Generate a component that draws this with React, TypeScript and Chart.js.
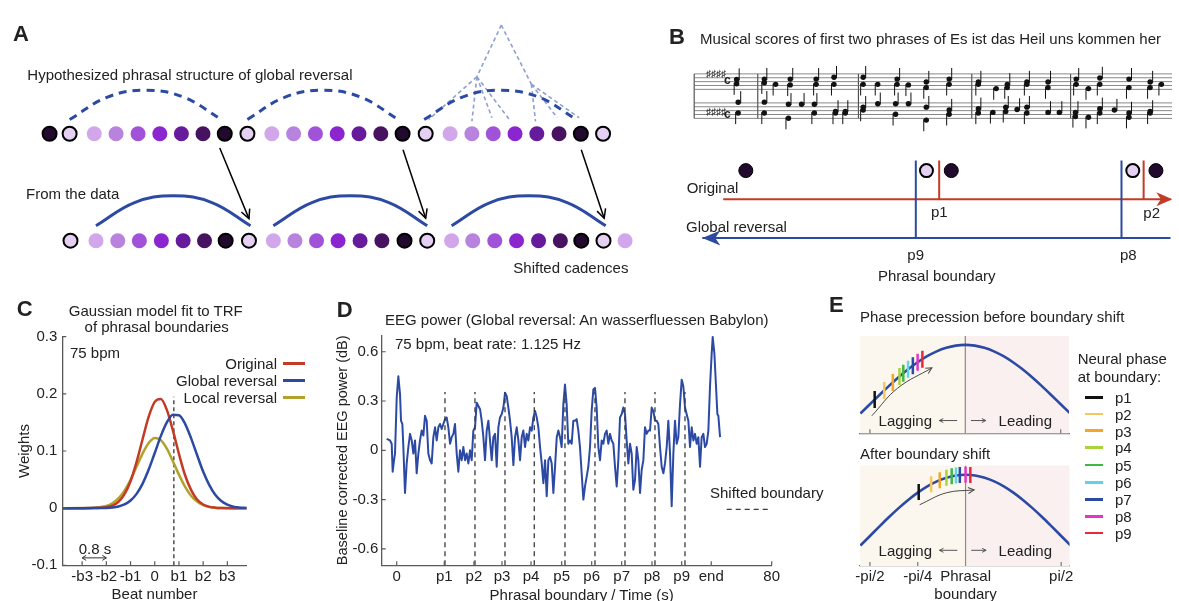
import React, { useEffect, useRef } from 'react';
import { Chart, registerables } from 'chart.js';

Chart.register(...registerables);

const FONT = '"Liberation Sans", Arial, Helvetica, sans-serif';
Chart.defaults.font.family = FONT;
Chart.defaults.font.size = 15;
Chart.defaults.color = '#222';

const INK = '#222222';
const AXIS = '#5a5a5a';
const BLUE = '#2c4aa3';
const RED = '#c33b25';
const OLIVE = '#b3a12c';

// ---------------- Panel A : beats & phrase arcs ----------------
const topRowBeats = [0, 0.92, 2.05, 3.05, 4.06, 5.06, 6.05, 7.04, 8.04, 9.08, 10.2, 11.2, 12.2, 13.2, 14.2, 15.2, 16.2, 17.26, 18.38, 19.38, 20.36, 21.36, 22.36, 23.38, 24.38, 25.4];
const topRowShades = [7, 0, 1, 2, 3, 4, 5, 6, 7, 0, 1, 2, 3, 4, 5, 6, 7, 0, 1, 2, 3, 4, 5, 6, 7, 0];
const bottomRowBeats = [0.96, 2.13, 3.13, 4.12, 5.13, 6.13, 7.11, 8.08, 9.15, 10.27, 11.26, 12.25, 13.24, 14.25, 15.25, 16.29, 17.33, 18.45, 19.42, 20.43, 21.43, 22.44, 23.44, 24.4, 25.42, 26.41];
const bottomRowShades = [0, 1, 2, 3, 4, 5, 6, 7, 0, 1, 2, 3, 4, 5, 6, 7, 0, 1, 2, 3, 4, 5, 6, 7, 0, 1];
const shadeColors = ['#e4d0f2', '#d2a6ea', '#b882df', '#a052d8', '#8a25cf', '#661a9c', '#471260', '#220a2e'];
const ROW_TOP = 3;
const ROW_BOTTOM = 0;

const hypArc1 = [[0.92, 3.4], [2.66, 4.03], [4.4, 4.22], [6.14, 4.03], [7.88, 3.4]];
const hypArc2 = [[9.08, 3.4], [10.81, 4.03], [12.54, 4.22], [14.27, 4.03], [16.0, 3.4]];
const hypArc3 = [[17.19, 3.4], [18.94, 4.03], [20.69, 4.22], [22.44, 4.03], [24.18, 3.4]];
const dataArc1 = [[2.13, 0.42], [3.9, 1.07], [5.68, 1.26], [7.45, 1.07], [9.22, 0.42]];
const dataArc2 = [[10.27, 0.42], [12.04, 1.07], [13.8, 1.26], [15.57, 1.07], [17.33, 0.42]];
const dataArc3 = [[18.45, 0.42], [20.22, 1.07], [21.99, 1.26], [23.75, 1.07], [25.52, 0.42]];
const treeSegments = [
  [[20.73, 6.05], [19.61, 4.6]], [[20.73, 6.05], [22.11, 4.39]],
  [[19.61, 4.6], [17.4, 3.4]], [[19.61, 4.6], [19.38, 3.35]], [[19.61, 4.6], [20.3, 3.45]], [[19.61, 4.6], [21.1, 3.4]],
  [[22.11, 4.39], [22.3, 3.35]], [[22.11, 4.39], [23.3, 3.45]], [[22.11, 4.39], [24.3, 3.45]],
];
const cadenceArrows = [
  [[7.81, 2.6], [9.15, 0.62]],
  [[16.22, 2.55], [17.26, 0.63]],
  [[24.4, 2.55], [25.45, 0.63]],
];

// ---------------- Panel B : score & timeline ----------------
const trebleLines = [15, 17, 19, 21, 23];
const bassLines = [0, 2, 4, 6, 8];
const barlineBeats = [0, 2.53, 6.53, 11.04, 14.97];
const scoreEnd = 19.3;
const trebleNotes = [
  [1.69, 20.1, 1], [1.69, 17.9, -1],
  [2.79, 20.3, 1], [2.79, 18.4, -1], [3.24, 17.6, -1], [3.82, 20.3, 1], [3.82, 17.3, -1], [4.85, 20.3, 1], [4.85, 17.6, -1], [5.56, 21.3, 1], [5.56, 17.6, -1],
  [6.72, 21.3, 1], [6.72, 17.6, -1], [7.3, 17.6, -1], [8.07, 20.3, 1], [8.07, 17.6, -1], [8.52, 17.3, -1], [9.23, 18.8, 1], [9.23, 15.9, -1], [10.14, 20.3, 1], [10.14, 17.6, -1],
  [11.3, 18.8, 1], [11.3, 17.6, -1], [12.01, 15.4, -1], [12.45, 17.6, 1], [12.45, 15.9, -1], [13.23, 18.8, 1], [13.23, 17.6, -1], [14.07, 18.8, 1], [14.07, 15.9, -1],
  [15.19, 20.3, 1], [15.19, 17.6, -1], [15.68, 15.4, -1], [16.13, 20.9, 1], [16.13, 17.6, -1], [17.29, 20.3, 1], [17.29, 15.9, -1], [18.13, 18.8, 1], [18.13, 15.9, -1], [18.58, 17.6, -1],
];
const bassNotes = [
  [1.75, 8.3, 1], [1.75, 2.8, -1],
  [2.79, 8.4, 1], [2.79, 2.8, -1], [3.75, 7.3, 1], [3.75, 0.1, -1], [4.27, 7.3, 1], [4.78, 7.3, 1], [4.78, 2.8, -1], [5.62, 3.6, 1], [5.62, 2.8, -1], [6.01, 3.6, 1], [6.01, 2.8, -1],
  [6.72, 5.8, 1], [6.72, 4.3, -1], [7.3, 7.6, 1], [8.01, 7.6, 1], [8.01, 2.1, -1], [8.52, 7.6, 1], [9.23, 5.8, 1], [9.23, -0.9, -1], [10.14, 4.3, 1], [10.14, 2.1, -1],
  [11.3, 5.0, 1], [11.3, 2.8, -1], [11.88, 3.1, -1], [12.39, 5.8, 1], [12.39, 3.6, -1], [12.84, 4.6, 1], [13.23, 5.8, 1], [13.23, 2.8, -1], [14.07, 3.1, 1], [14.52, 3.1, 1],
  [15.16, 3.1, 1], [15.16, 1.0, -1], [15.68, 0.6, -1], [16.13, 5.0, 1], [16.13, 2.8, -1], [16.71, 4.3, 1], [17.29, 2.8, 1], [17.29, 0.6, -1], [18.13, 3.6, 1], [18.13, 2.8, -1],
];
const originalCadenceDots = [0, 10.02, 20.0];
const reversedCadenceDots = [8.81, 18.87];
const globalBoundaries = [8.29, 18.32];
const originalBoundaries = [9.43, 19.4];

// ---------------- Panel C : Gaussian fits ----------------
const beatGrid = [-3.8, -3, -2.5, -2, -1.75, -1.5, -1.25, -1, -0.75, -0.5, -0.25, 0, 0.25, 0.5, 0.75, 1, 1.25, 1.5, 1.75, 2, 2.25, 2.5, 2.75, 3, 3.25, 3.5, 3.8];
const originalWeights = [0, 0, 0.0001, 0.0016, 0.0045, 0.0111, 0.0245, 0.047, 0.081, 0.121, 0.16, 0.186, 0.191, 0.172, 0.136, 0.095, 0.058, 0.032, 0.015, 0.0063, 0.0023, 0.0008, 0.0002, 0, 0, 0, 0];
const globalWeights = [0, 0, 0.0001, 0.0004, 0.0012, 0.0029, 0.0065, 0.0134, 0.025, 0.043, 0.0675, 0.0965, 0.126, 0.15, 0.1635, 0.1627, 0.148, 0.1226, 0.093, 0.064, 0.0406, 0.0234, 0.0124, 0.006, 0.0026, 0.001, 0.0003];
const localWeights = [0, 0.0001, 0.0006, 0.0039, 0.0086, 0.0171, 0.0307, 0.0497, 0.0727, 0.0959, 0.114, 0.1228, 0.119, 0.104, 0.082, 0.0586, 0.0377, 0.0218, 0.0114, 0.0054, 0.0023, 0.0009, 0.0003, 0.0001, 0, 0, 0];
const beatTicks = [-3, -2, -1, 0, 1, 2, 3];
const beatTickLabels = ['-b3', '-b2', '-b1', '0', 'b1', 'b2', 'b3'];
const weightTicks = [-0.1, 0, 0.1, 0.2, 0.3];
const shiftedBeat = 0.79;

// ---------------- Panel D : EEG power ----------------
const eegTime = [
  -2.14, -1.43, -1.07, -0.86, -0.57, -0.36, 0.0, 0.35, 0.71, 0.92,
  1.21, 1.42, 1.77, 2.13, 2.49, 2.84, 3.2, 3.55, 3.91, 4.26,
  4.62, 4.97, 5.33, 5.69, 6.04, 6.4, 6.75, 7.11, 7.46, 7.82,
  8.18, 8.53, 8.89, 9.24, 9.6, 9.95, 10.31, 10.66, 11.02, 11.38,
  11.73, 12.09, 12.44, 12.8, 13.15, 13.51, 13.87, 14.22, 14.58, 14.93,
  15.29, 15.64, 16.0, 16.35, 16.71, 17.07, 17.42, 17.78, 18.13, 18.49,
  18.84, 19.2, 19.56, 19.91, 20.27, 20.62, 20.98, 21.33, 21.69, 22.04,
  22.4, 22.76, 23.11, 23.47, 23.82, 24.18, 24.53, 24.89, 25.25, 25.6,
  25.96, 26.31, 26.67, 27.02, 27.38, 27.73, 28.09, 28.45, 28.8, 29.16,
  29.51, 29.87, 30.22, 30.58, 30.94, 31.29, 31.65, 32.0, 32.36, 32.71,
  33.07, 33.42, 33.78, 34.14, 34.49,
  34.84, 35.19, 35.55, 35.9, 36.26, 36.61, 36.97, 37.33, 37.68, 38.04,
  38.39, 38.75, 39.1, 39.46, 39.82, 40.17, 40.53, 40.88, 41.24, 41.59,
  41.95, 42.3, 42.66, 43.02, 43.37, 43.73, 44.08, 44.44, 44.79, 45.15,
  45.5, 45.86, 46.22, 46.57, 46.93, 47.28, 47.64, 47.99, 48.35, 48.71,
  49.06, 49.42, 49.77, 50.13, 50.48, 50.84, 51.2, 51.55, 51.91, 52.26,
  52.62, 52.97, 53.33, 53.68, 54.04, 54.4, 54.75, 55.11, 55.46, 55.82,
  56.17, 56.53, 56.89, 57.24, 57.6, 57.95, 58.31, 58.66, 59.02, 59.37,
  59.73, 60.08, 60.44, 60.8, 61.15, 61.51, 61.86, 62.22, 62.57, 62.93,
  63.29, 63.64, 64.0, 64.35, 64.71, 65.06, 65.42, 65.77, 66.13, 66.49,
  66.84, 67.2, 67.41, 67.77, 68.12, 68.41, 68.62, 68.98,
];
const eegPower = [
  0.07, 0.06, 0.04, -0.13, -0.06, -0.02, 0.32, 0.45, 0.34, 0.18,
  0.16, 0.02, -0.26, -0.08, 0.02, 0.1, 0.06, -0.02, 0.06, -0.14,
  -0.02, 0.06, 0.12, 0.09, 0.21, 0.18, -0.02, -0.06, -0.08, 0.08,
  0.14, 0.06, 0.14, 0.16, 0.13, 0.16, 0.19, 0.2, 0.14, 0.04,
  0.08, 0.1, 0.16, -0.02, -0.13, 0.0, -0.06, 0.02, -0.06, -0.02,
  -0.08, 0.0, -0.06, 0.12, 0.14, 0.29, 0.27, 0.25, 0.18, 0.08,
  -0.06, 0.12, 0.18, 0.06, -0.06, 0.08, 0.1, -0.1, 0.14, 0.2,
  0.22, 0.26, 0.35, 0.33, 0.26, 0.18, 0.08, -0.09, 0.08, 0.14,
  0.06, -0.06, 0.08, 0.12, 0.02, 0.1, 0.06, 0.14, 0.12, 0.2,
  0.24, 0.2, 0.14, 0.02, -0.08, -0.2, -0.06, -0.28, -0.06, -0.04,
  -0.08, -0.26, -0.1, 0.08, 0.12,
  0.08, 0.02, 0.28, 0.4, 0.28, 0.04, 0.06, 0.04, 0.18, 0.18,
  0.19, 0.12, 0.02, -0.14, -0.3, -0.22, -0.16, -0.1, 0.02, 0.24,
  0.37, 0.38, 0.26, 0.02, -0.06, 0.06, 0.04, 0.1, 0.12, 0.04,
  0.1, 0.06, 0.04, -0.1, -0.22, -0.06, 0.2, 0.22, 0.26, 0.22,
  0.06, -0.08, 0.04, -0.02, -0.24, -0.18, 0.02, -0.06, -0.26, -0.12,
  -0.06, 0.14, 0.1, 0.12, 0.12, 0.26, 0.24, 0.18, 0.18, 0.16,
  0.02, -0.1, -0.14, -0.08, 0.02, 0.18, -0.02, -0.34, -0.02, 0.18,
  0.04, 0.08, 0.28, 0.43, 0.39, 0.26, 0.22, 0.18, 0.02, 0.14,
  0.06, 0.1, 0.04, 0.08, -0.1, 0.08, 0.1, 0.02, 0.04, 0.12,
  0.39, 0.59, 0.69, 0.59, 0.39, 0.22, 0.21, 0.08,
];
const timeTicks = [0, 10.15, 16.47, 22.46, 28.65, 35.2, 41.6, 48.0, 54.46, 60.8, 67.1, 80];
const timeTickLabels = ['0', 'p1', 'p2', 'p3', 'p4', 'p5', 'p6', 'p7', 'p8', 'p9', 'end', '80'];
const shiftedBoundaries = [10.3, 16.7, 23.1, 29.35, 35.9, 42.3, 48.7, 55.1, 61.5];
const powerTicks = [-0.6, -0.3, 0, 0.3, 0.6];

// ---------------- Panel E : neural phase ----------------
const phaseGrid = [-1.1, -1.0, -0.9, -0.8, -0.7, -0.6, -0.5, -0.4, -0.3, -0.2, -0.1, 0, 0.1, 0.2, 0.3, 0.4, 0.5, 0.6, 0.7, 0.8, 0.9, 1.0, 1.1];
const phaseCurve = [-0.156, 0, 0.156, 0.309, 0.454, 0.588, 0.707, 0.809, 0.891, 0.951, 0.988, 1, 0.988, 0.951, 0.891, 0.809, 0.707, 0.588, 0.454, 0.309, 0.156, 0, -0.156];
const phaseBefore = [-0.95, -0.85, -0.76, -0.69, -0.65, -0.6, -0.55, -0.5, -0.45];
const phaseBeforeLevel = [0.078, 0.233, 0.368, 0.468, 0.522, 0.588, 0.649, 0.707, 0.76];
const phaseAfter = [-0.49, -0.36, -0.27, -0.2, -0.145, -0.1, -0.06, 0.0, 0.05];
const phaseAfterLevel = [0.718, 0.844, 0.911, 0.951, 0.974, 0.988, 0.996, 1.0, 0.997];
const boundaryNames = ['p1', 'p2', 'p3', 'p4', 'p5', 'p6', 'p7', 'p8', 'p9'];
const boundaryColors = ['#111111', '#f7c65c', '#f5a52a', '#a8d43a', '#3fb844', '#5fd3ea', '#2b4ba0', '#e535c8', '#e8283c'];
const phaseTicks = [-1, -0.5, 0, 1];
const phaseTickLabels = ['-pi/2', '-pi/4', ['Phrasal', 'boundary'], 'pi/2'];

// ---------------- helpers ----------------
function drawHead(ctx: any, tip: any, from: any, spec: any, color: string) {
  const ang = Math.atan2(tip.y - from.y, tip.x - from.x);
  const L = spec.len;
  const W = spec.width;
  ctx.save();
  ctx.translate(tip.x, tip.y);
  ctx.rotate(ang);
  ctx.strokeStyle = color;
  ctx.fillStyle = color;
  ctx.lineWidth = spec.lineWidth || 1.5;
  ctx.beginPath();
  if (spec.style === 'open') {
    ctx.moveTo(-L, -W / 2);
    ctx.lineTo(0, 0);
    ctx.lineTo(-L, W / 2);
    ctx.stroke();
  } else {
    ctx.moveTo(0, 0);
    ctx.lineTo(-L, -W / 2);
    ctx.lineTo(-L * 0.72, 0);
    ctx.lineTo(-L, W / 2);
    ctx.closePath();
    ctx.fill();
  }
  ctx.restore();
}

const figurePlugin: any = {
  id: 'figure',
  beforeDatasetsDraw(chart: any, _a: any, opts: any) {
    const h = opts && opts.halves;
    if (!h) return;
    const { ctx, chartArea: a } = chart;
    const xm = chart.scales.x.getPixelForValue(h.at);
    ctx.save();
    ctx.fillStyle = h.left;
    ctx.fillRect(a.left, a.top, xm - a.left, a.bottom - a.top);
    ctx.fillStyle = h.right;
    ctx.fillRect(xm, a.top, a.right - xm, a.bottom - a.top);
    ctx.restore();
  },
  afterDatasetsDraw(chart: any, _a: any, opts: any) {
    const ctx = chart.ctx;
    chart.data.datasets.forEach((ds: any, i: number) => {
      const pts: any[] = chart.getDatasetMeta(i).data as any;
      if (!pts || pts.length < 2) return;
      if (ds.arrowEnd) {
        const p = pts[pts.length - 1];
        const q = pts[pts.length - 2];
        const from = ds.tension && isFinite(p.cp1x) ? { x: p.cp1x, y: p.cp1y } : q;
        drawHead(ctx, p, from, ds.arrowEnd, ds.borderColor);
      }
      if (ds.arrowStart) {
        const p = pts[0];
        const q = pts[1];
        const from = ds.tension && isFinite(p.cp2x) ? { x: p.cp2x, y: p.cp2y } : q;
        drawHead(ctx, p, from, ds.arrowStart, ds.borderColor);
      }
    });
    const t = opts && opts.inTicks;
    if (t) {
      const { chartArea: a, scales } = chart;
      ctx.save();
      ctx.strokeStyle = t.color;
      ctx.lineWidth = t.width || 1;
      ctx.beginPath();
      (t.x || []).forEach((v: number) => {
        const px = scales.x.getPixelForValue(v);
        ctx.moveTo(px, a.bottom);
        ctx.lineTo(px, a.bottom - t.len);
      });
      (t.y || []).forEach((v: number) => {
        const py = scales.y.getPixelForValue(v);
        ctx.moveTo(a.left, py);
        ctx.lineTo(a.left + t.len, py);
      });
      ctx.stroke();
      ctx.restore();
    }
  },
};

const line = (pts: number[][], color: string, width: number, extra: any = {}) => ({
  data: pts.map(([x, y]) => ({ x, y })),
  showLine: true,
  borderColor: color,
  backgroundColor: color,
  borderWidth: width,
  pointRadius: 0,
  pointHoverRadius: 0,
  tension: 0,
  fill: false,
  ...extra,
});

const baseOpts = () => ({
  responsive: false,
  animation: false,
  events: [],
  devicePixelRatio: 1,
});

function schematic(datasets: any[], xr: number[], yr: number[]) {
  return {
    type: 'scatter',
    data: { datasets },
    plugins: [figurePlugin],
    options: {
      ...baseOpts(),
      layout: { padding: 0 },
      scales: {
        x: { type: 'linear', display: false, min: xr[0], max: xr[1] },
        y: { type: 'linear', display: false, min: yr[0], max: yr[1] },
      },
      plugins: { legend: { display: false }, tooltip: { enabled: false }, figure: {} },
    },
  };
}

// ---------------- chart configs ----------------
function panelAConfig() {
  const ds: any[] = [];
  [hypArc1, hypArc2, hypArc3].forEach((arc) => ds.push(line(arc, BLUE, 3, { tension: 0.4, borderDash: [8, 6] })));
  treeSegments.forEach((s) => ds.push(line(s, '#8ea0d3', 1.6, { borderDash: [4, 3] })));
  [dataArc1, dataArc2, dataArc3].forEach((arc) => ds.push(line(arc, BLUE, 3, { tension: 0.4 })));
  cadenceArrows.forEach((a) => ds.push(line(a, '#000', 1.5, { arrowEnd: { style: 'open', len: 9, width: 9, lineWidth: 1.5 } })));
  const dots = (beats: number[], shades: number[], row: number) => ({
    data: beats.map((b) => ({ x: b, y: row })),
    showLine: false,
    pointRadius: shades.map((s) => (s === 0 || s === 7 ? 7 : 7.5)),
    pointBackgroundColor: shades.map((s) => shadeColors[s]),
    pointBorderColor: '#000',
    pointBorderWidth: shades.map((s) => (s === 0 || s === 7 ? 2 : 0)),
  });
  ds.unshift(dots(bottomRowBeats, bottomRowShades, ROW_BOTTOM));
  ds.unshift(dots(topRowBeats, topRowShades, ROW_TOP));
  return schematic(ds, [-1.862, 27.6], [-1.13, 6.5]);
}

function scoreConfig() {
  const ds: any[] = [];
  const all = [...trebleNotes, ...bassNotes];
  ds.push({
    data: all.map(([u, s]) => ({ x: u, y: s })),
    showLine: false,
    pointRadius: 2.7,
    pointBackgroundColor: '#111',
    pointBorderColor: '#111',
    pointBorderWidth: 0,
  });
  ds.push({
    data: all.map(([u, s, d]) => ({ x: u + d * 0.1, y: s + d * 2.67 })),
    showLine: false,
    pointStyle: 'line',
    pointRotation: 90,
    pointRadius: 6,
    pointBorderColor: '#111',
    pointBorderWidth: 1,
  });
  [...trebleLines, ...bassLines].forEach((s) => ds.push(line([[0, s], [scoreEnd, s]], '#6a6a6a', 0.8)));
  barlineBeats.forEach((b) => ds.push(line([[b, 0], [b, 23]], '#333', 1)));
  return schematic(ds, [-1.08, 19.0], [-7.56, 36.9]);
}

function timelineConfig() {
  const ds: any[] = [];
  ds.push({
    data: originalCadenceDots.map((x) => ({ x, y: 1.74 })),
    showLine: false,
    pointRadius: 7,
    pointBackgroundColor: shadeColors[7],
    pointBorderColor: '#000',
    pointBorderWidth: 1,
  });
  ds.push({
    data: reversedCadenceDots.map((x) => ({ x, y: 1.74 })),
    showLine: false,
    pointRadius: 6.5,
    pointBackgroundColor: shadeColors[0],
    pointBorderColor: '#000',
    pointBorderWidth: 2,
  });
  originalBoundaries.forEach((x) => ds.push(line([[x, 0.98], [x, 2.0]], RED, 2)));
  globalBoundaries.forEach((x) => ds.push(line([[x, -0.01], [x, 2.0]], BLUE, 2)));
  ds.push(line([[-1.1, 1], [20.8, 1]], RED, 2, { arrowEnd: { style: 'filled', len: 16, width: 14 } }));
  ds.push(line([[20.8, 0], [-2.12, 0]], BLUE, 2, { arrowEnd: { style: 'filled', len: 18, width: 15 } }));
  return schematic(ds, [-3.77, 20.71], [-1.12, 2.31]);
}

function fixedTicks(values: number[]) {
  return (s: any) => {
    s.ticks = values.map((v) => ({ value: v }));
  };
}

function panelCConfig() {
  const curve = (vals: number[], color: string) => ({
    data: beatGrid.map((x, i) => ({ x, y: vals[i] })),
    showLine: true,
    borderColor: color,
    backgroundColor: color,
    borderWidth: 2.5,
    pointRadius: 0,
    cubicInterpolationMode: 'monotone',
    fill: false,
  });
  return {
    type: 'scatter',
    data: {
      datasets: [
        curve(globalWeights, BLUE),
        curve(originalWeights, RED),
        curve(localWeights, OLIVE),
        line([[shiftedBeat, -0.1], [shiftedBeat, 0.195]], '#333', 1.3, { borderDash: [4, 3] }),
        line([[-3, -0.087], [-2, -0.087]], '#333', 1, {
          arrowStart: { style: 'open', len: 4, width: 5, lineWidth: 1 },
          arrowEnd: { style: 'open', len: 4, width: 5, lineWidth: 1 },
        }),
      ],
    },
    plugins: [figurePlugin],
    options: {
      ...baseOpts(),
      layout: { padding: { top: 46.7, right: 13.3, left: 0, bottom: 0 } },
      scales: {
        x: {
          type: 'linear', min: -3.82, max: 3.8,
          afterBuildTicks: fixedTicks(beatTicks),
          afterFit: (s: any) => { s.height = 44.7; },
          grid: { display: false, drawTicks: false },
          border: { display: true, color: AXIS, width: 1.3 },
          ticks: { padding: 3, color: INK, autoSkip: false, maxRotation: 0, minRotation: 0, font: { size: 15 }, callback: (_v: any, i: number) => beatTickLabels[i] },
          title: { display: true, text: 'Beat number', color: INK, font: { size: 15 }, padding: { top: 0, bottom: 6 } },
        },
        y: {
          type: 'linear', min: -0.1, max: 0.3,
          afterBuildTicks: fixedTicks(weightTicks),
          afterFit: (s: any) => { s.width = 62.3; },
          grid: { display: false, drawTicks: false },
          border: { display: true, color: AXIS, width: 1.3 },
          ticks: { padding: 5, color: INK, autoSkip: false, font: { size: 15 }, callback: (v: number) => (Math.abs(v) < 1e-9 ? '0' : String(Math.round(v * 10) / 10)) },
          title: { display: true, text: 'Weights', color: INK, font: { size: 15 }, padding: { top: 16, bottom: 0 } },
        },
      },
      plugins: {
        legend: { display: false }, tooltip: { enabled: false },
        figure: { inTicks: { x: beatTicks, y: weightTicks, len: 4, color: AXIS, width: 1.2 } },
      },
    },
  };
}

function panelDConfig() {
  const ds: any[] = [];
  shiftedBoundaries.forEach((x) => ds.push(line([[x, -0.7], [x, 0.355]], '#3a3a3a', 1.3, { borderDash: [5, 4] })));
  ds.push(line([[70.4, -0.36], [80, -0.36]], '#3a3a3a', 1.3, { borderDash: [5, 4] }));
  ds.push({
    data: eegTime.map((t, i) => ({ x: t, y: eegPower[i] })),
    showLine: true,
    borderColor: BLUE,
    backgroundColor: BLUE,
    borderWidth: 2,
    borderJoinStyle: 'round',
    pointRadius: 0,
    tension: 0,
    fill: false,
  });
  return {
    type: 'scatter',
    data: { datasets: ds },
    plugins: [figurePlugin],
    options: {
      ...baseOpts(),
      layout: { padding: { top: 45.3, right: 58.3, left: 0, bottom: 0 } },
      scales: {
        x: {
          type: 'linear', min: -3.2, max: 80,
          afterBuildTicks: fixedTicks(timeTicks),
          afterFit: (s: any) => { s.height = 44.7; },
          grid: { display: false, drawTicks: false },
          border: { display: true, color: AXIS, width: 1.3 },
          ticks: { padding: 3, color: INK, autoSkip: false, maxRotation: 0, minRotation: 0, font: { size: 15 }, callback: (_v: any, i: number) => timeTickLabels[i] },
          title: { display: false },
        },
        y: {
          type: 'linear', min: -0.7, max: 0.7,
          afterBuildTicks: fixedTicks(powerTicks),
          afterFit: (s: any) => { s.width = 51.7; },
          grid: { display: false, drawTicks: false },
          border: { display: true, color: AXIS, width: 1.3 },
          ticks: { padding: 3.4, color: INK, autoSkip: false, font: { size: 15 }, callback: (v: number) => (Math.abs(v) < 1e-9 ? '0' : String(Math.round(v * 10) / 10)) },
          title: { display: true, text: 'Baseline corrected EEG power (dB)', color: INK, font: { size: 14.5 }, padding: { top: 4.3, bottom: 0 } },
        },
      },
      plugins: {
        legend: { display: false }, tooltip: { enabled: false },
        figure: { inTicks: { x: timeTicks, y: powerTicks, len: 4, color: AXIS, width: 1.2 } },
      },
    },
  };
}

function phaseConfig(markX: number[], markY: number[], markRadius: number, arrowPts: number[][], arrowY: number, withLabels: boolean, axisHeight: number, padTop: number) {
  const ds: any[] = [];
  ds.push({
    data: markX.map((x, i) => ({ x, y: markY[i] })),
    showLine: false,
    pointStyle: 'line',
    pointRotation: 90,
    pointRadius: markRadius,
    pointBorderColor: boundaryColors,
    pointBorderWidth: 2.5,
  });
  ds.push(line(arrowPts, '#4a4a4a', 1, { tension: 0.4, arrowEnd: { style: 'open', len: 6, width: 6, lineWidth: 1 } }));
  ds.push(line([[-0.086, arrowY], [-0.273, arrowY]], '#555', 1, { arrowEnd: { style: 'open', len: 4, width: 4, lineWidth: 1 } }));
  ds.push(line([[0.059, arrowY], [0.215, arrowY]], '#555', 1, { arrowEnd: { style: 'open', len: 4, width: 4, lineWidth: 1 } }));
  ds.push({
    data: phaseGrid.map((x, i) => ({ x, y: phaseCurve[i] })),
    showLine: true,
    borderColor: BLUE,
    borderWidth: 2.6,
    pointRadius: 0,
    cubicInterpolationMode: 'monotone',
    fill: false,
  });
  ds.push(line([[0, -0.49], [0, 1.15]], '#8a8a8a', 1.2));
  return {
    type: 'scatter',
    data: { datasets: ds },
    plugins: [figurePlugin],
    options: {
      ...baseOpts(),
      layout: { padding: { top: padTop, right: 9, left: 20, bottom: 0 } },
      scales: {
        x: {
          type: 'linear', min: -1.104, max: 1.087,
          afterBuildTicks: fixedTicks(phaseTicks),
          afterFit: (s: any) => { s.height = axisHeight; },
          grid: { display: false, drawTicks: false },
          border: { display: true, color: '#777', width: 1.3 },
          ticks: { display: withLabels, padding: 2, color: INK, autoSkip: false, maxRotation: 0, minRotation: 0, font: { size: 15 }, callback: (_v: any, i: number) => phaseTickLabels[i] },
        },
        y: { type: 'linear', display: false, min: -0.49, max: 1.15 },
      },
      plugins: {
        legend: { display: false }, tooltip: { enabled: false },
        figure: {
          halves: { at: 0, left: '#fbf7ee', right: '#fbf0f0' },
          inTicks: { x: withLabels ? [-1, -0.5, 1] : [-1, 1], len: 4, color: '#777', width: 1.2 },
        },
      },
    },
  };
}

// ---------------- components ----------------
function ChartBox({ left, top, width, height, make }: any) {
  const ref = useRef<HTMLCanvasElement>(null);
  useEffect(() => {
    const chart = new Chart(ref.current as any, make());
    return () => chart.destroy();
  }, []);
  return <canvas ref={ref} width={width} height={height} style={{ position: 'absolute', left, top, width, height }} />;
}

function Label({ x, y, text, size = 15, align = 'left', bold = false, color = INK }: any) {
  const tx = align === 'left' ? '0' : align === 'center' ? '-50%' : '-100%';
  return (
    <div
      style={{
        position: 'absolute', left: x, top: y, transform: `translate(${tx}, -50%)`,
        fontFamily: FONT, fontSize: size, fontWeight: bold ? 700 : 400, lineHeight: 1,
        whiteSpace: 'nowrap', color,
      }}
    >
      {text}
    </div>
  );
}

function Swatch({ x, y, w, color, h = 2.5 }: any) {
  return <div style={{ position: 'absolute', left: x, top: y - h / 2, width: w, height: h, background: color }} />;
}

const legendRowsE = [397.3, 414, 430.7, 447.3, 465, 482.3, 499.3, 516.3, 533];

export default function App() {
  return (
    <div style={{ position: 'fixed', left: 0, top: 0, width: 1179, height: 601, overflow: 'hidden', background: '#fff' }}>
      <ChartBox left={0} top={0} width={660} height={290} make={panelAConfig} />
      <ChartBox left={660} top={40} width={519} height={100} make={scoreConfig} />
      <ChartBox left={660} top={140} width={519} height={150} make={timelineConfig} />
      <ChartBox left={0} top={290} width={260} height={320} make={panelCConfig} />
      <ChartBox left={330} top={290} width={500} height={320} make={panelDConfig} />
      <ChartBox left={840} top={325} width={240} height={120}
        make={() => phaseConfig(phaseBefore, phaseBeforeLevel, 8.5, [[-0.98, -0.195], [-0.71, 0.27], [-0.35, 0.613]], -0.275, false, 11.7, 6.7)} />
      <ChartBox left={840} top={455} width={240} height={150}
        make={() => phaseConfig(phaseAfter, phaseAfterLevel, 8, [[-0.48, 0.51], [-0.2, 0.705], [0.09, 0.751]], -0.234, true, 39, 8.3)} />

      {/* Panel A */}
      <Label x={13} y={34} text="A" size={22} bold />
      <Label x={27.3} y={73.5} text="Hypothesized phrasal structure of global reversal" />
      <Label x={26} y={193.3} text="From the data" />
      <Label x={513.3} y={266.7} text="Shifted cadences" />

      {/* Panel B */}
      <Label x={669} y={36.7} text="B" size={22} bold />
      <Label x={700} y={37.5} text="Musical scores of first two phrases of Es ist das Heil uns kommen her" />
      <Label x={706} y={74} text="♯♯♯♯" size={10} />
      <Label x={706} y={112} text="♯♯♯♯" size={10} />
      <Label x={724} y={80} text="c" size={12} bold />
      <Label x={724} y={114} text="c" size={12} bold />
      <Label x={686.7} y={186.7} text="Original" />
      <Label x={686} y={226} text="Global reversal" />
      <Label x={939.3} y={210.7} text="p1" align="center" />
      <Label x={1151.7} y={212} text="p2" align="center" />
      <Label x={915.7} y={254.3} text="p9" align="center" />
      <Label x={1128.3} y={254} text="p8" align="center" />
      <Label x={936.7} y={275} text="Phrasal boundary" align="center" />

      {/* Panel C */}
      <Label x={16.7} y={309} text="C" size={22} bold />
      <Label x={155.8} y={309.5} text="Gaussian model fit to TRF" align="center" />
      <Label x={156.7} y={326} text="of phrasal boundaries" align="center" />
      <Label x={70} y={351.7} text="75 bpm" />
      <Label x={277} y={362.7} text="Original" align="right" />
      <Label x={277} y={380} text="Global reversal" align="right" />
      <Label x={277} y={396.7} text="Local reversal" align="right" />
      <Swatch x={283} y={363.5} w={22} color={RED} />
      <Swatch x={283} y={380.5} w={22} color={BLUE} />
      <Swatch x={283} y={397.5} w={22} color={OLIVE} />
      <Label x={95} y={548.3} text="0.8 s" align="center" />

      {/* Panel D */}
      <Label x={336.7} y={310} text="D" size={22} bold />
      <Label x={385} y={319.3} text="EEG power (Global reversal: An wasserfluessen Babylon)" />
      <Label x={395} y={343.3} text="75 bpm, beat rate: 1.125 Hz" />
      <Label x={710} y={492.3} text="Shifted boundary" />
      <Label x={581.7} y={594} text="Phrasal boundary / Time (s)" align="center" />

      {/* Panel E */}
      <Label x={829} y={305} text="E" size={22} bold />
      <Label x={860} y={316} text="Phase precession before boundary shift" />
      <Label x={860} y={453.3} text="After boundary shift" />
      <Label x={905.3} y={420} text="Lagging" align="center" />
      <Label x={1025.3} y={420} text="Leading" align="center" />
      <Label x={905.3} y={550} text="Lagging" align="center" />
      <Label x={1025.3} y={550} text="Leading" align="center" />
      <Label x={1077.7} y={358.3} text="Neural phase" />
      <Label x={1077.7} y={376} text="at boundary:" />
      {boundaryNames.map((n, i) => (
        <React.Fragment key={n}>
          <Swatch x={1085} y={legendRowsE[i]} w={18} color={boundaryColors[i]} />
          <Label x={1115} y={legendRowsE[i]} text={n} />
        </React.Fragment>
      ))}
    </div>
  );
}
